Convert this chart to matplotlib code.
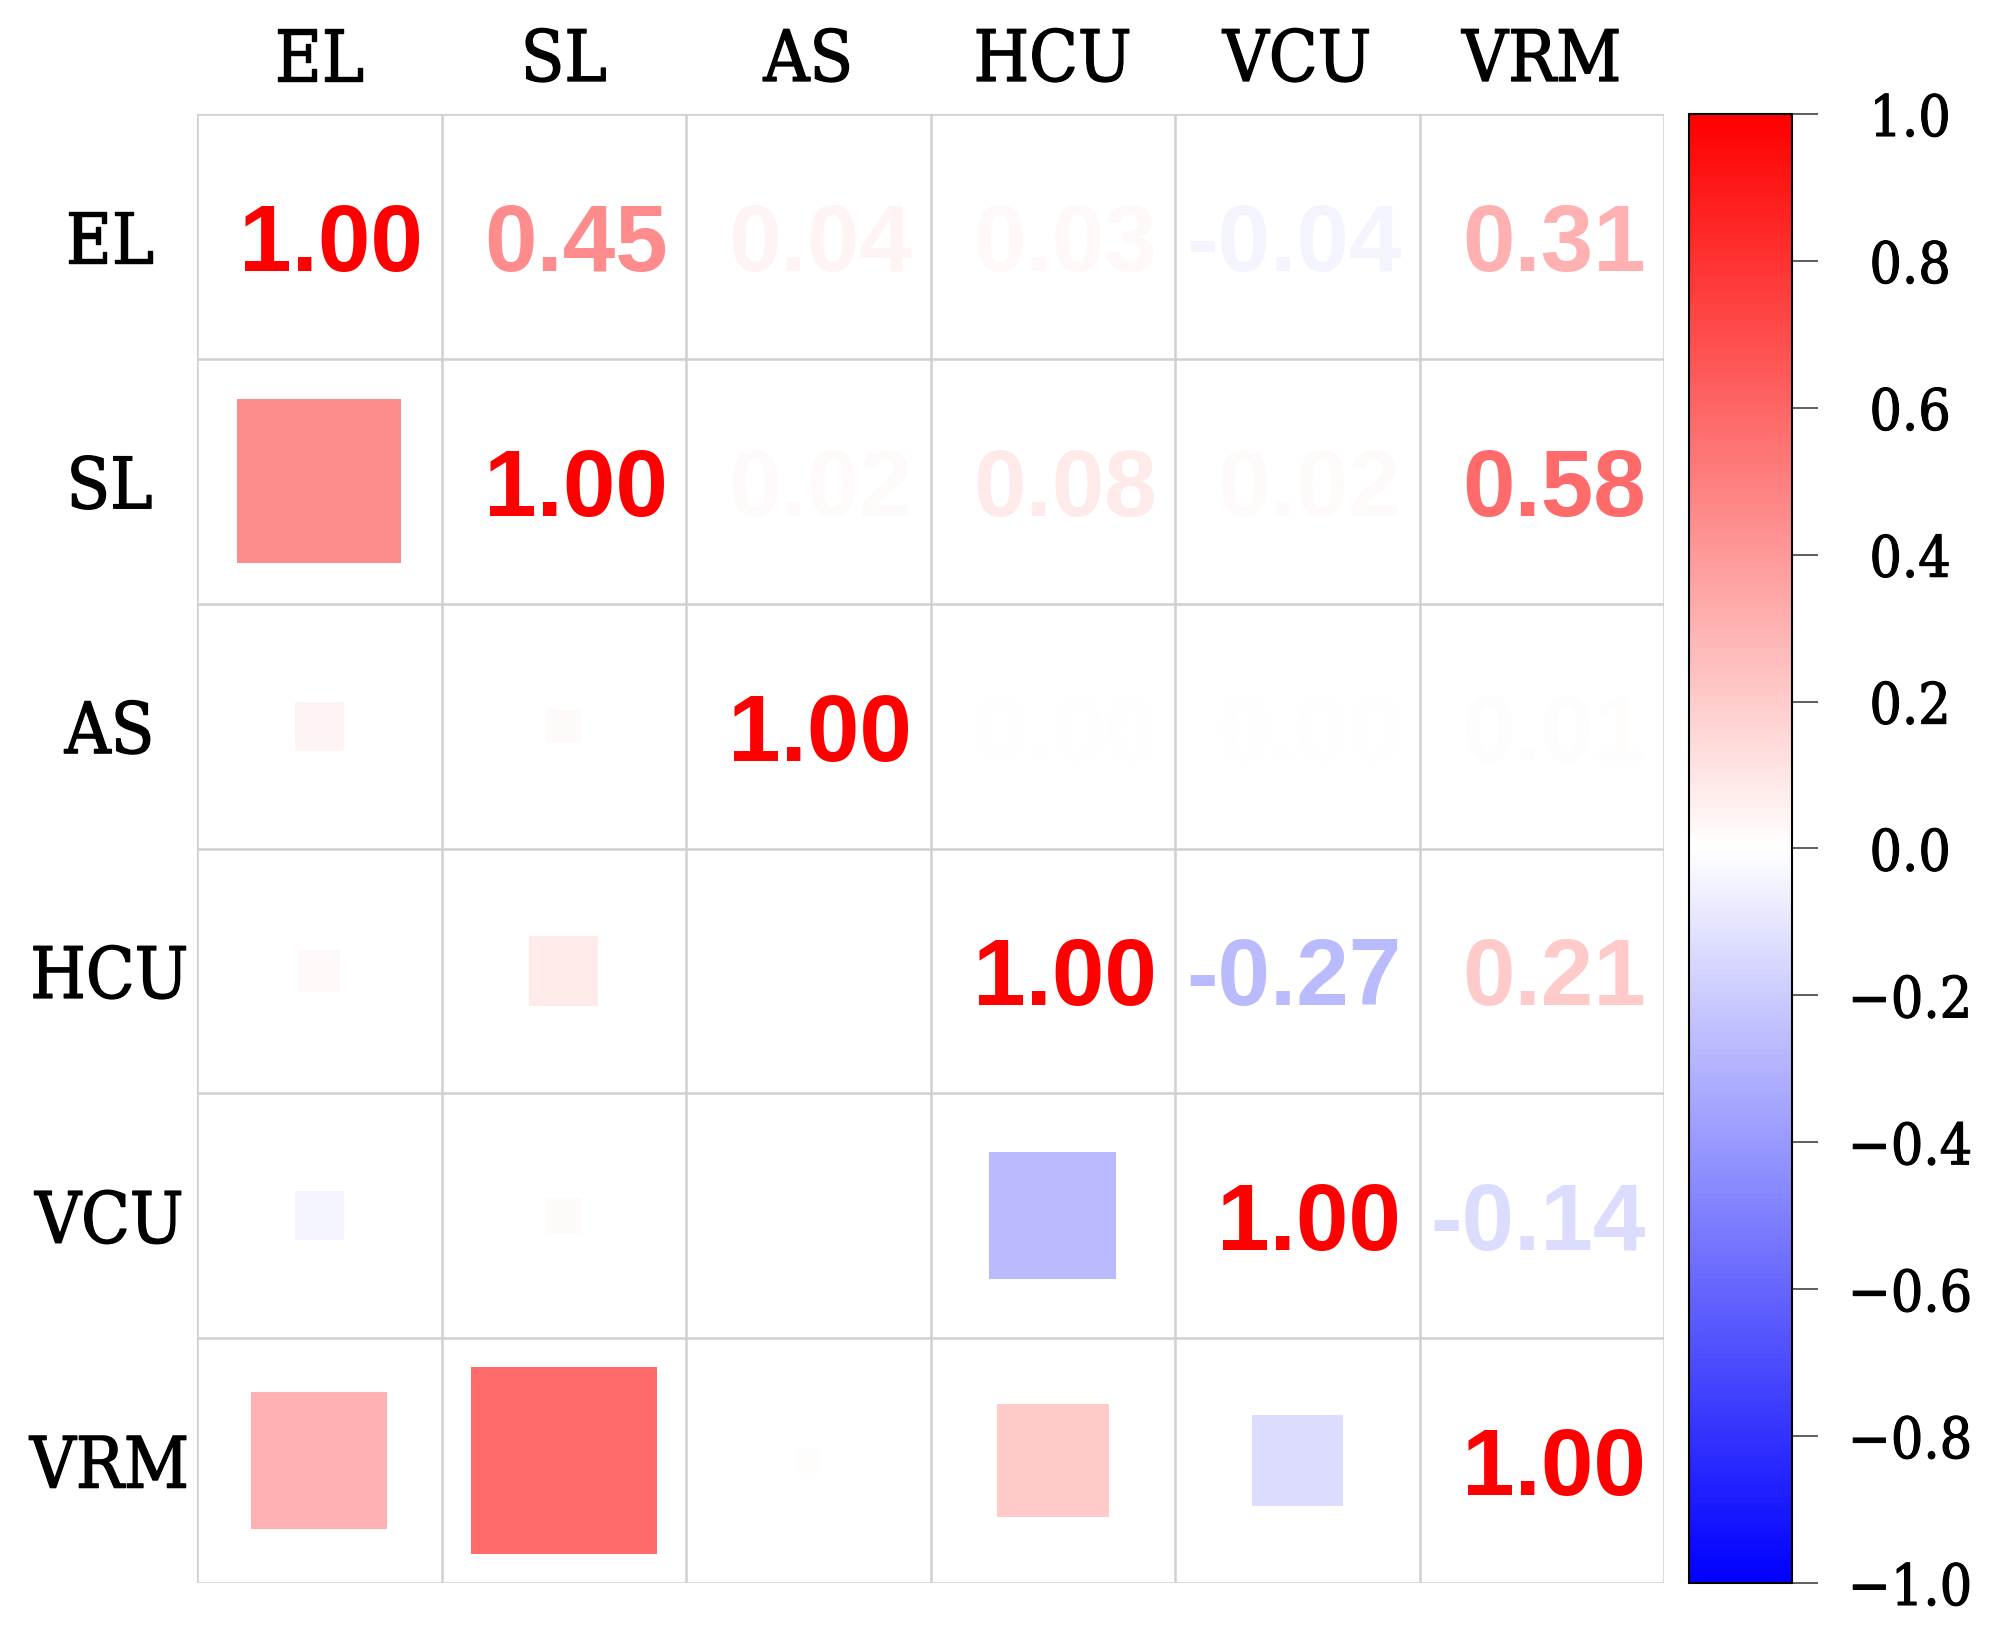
import numpy as np
import matplotlib
matplotlib.use("Agg")
import matplotlib.pyplot as plt
from matplotlib.patches import Rectangle
from matplotlib.colors import Normalize
from matplotlib import patheffects as pe

labels = ["EL", "SL", "AS", "HCU", "VCU", "VRM"]
row_EL = [1.00, 0.45, 0.04, 0.03, -0.04, 0.31]
row_SL = [0.45, 1.00, 0.02, 0.08, 0.02, 0.58]
row_AS = [0.04, 0.02, 1.00, 0.00, 0.00, 0.01]
row_HCU = [0.03, 0.08, 0.00, 1.00, -0.27, 0.21]
row_VCU = [-0.04, 0.02, 0.00, -0.27, 1.00, -0.14]
row_VRM = [0.31, 0.58, 0.01, 0.21, -0.14, 1.00]
cbar_ticks = [1.0, 0.8, 0.6, 0.4, 0.2, 0.0, -0.2, -0.4, -0.6, -0.8, -1.0]

corr = np.array([row_EL, row_SL, row_AS, row_HCU, row_VCU, row_VRM])
n = len(labels)
cmap = plt.get_cmap("bwr")
norm = Normalize(vmin=-1, vmax=1)

W, H = 1990, 1646
fig = plt.figure(figsize=(W / 100, H / 100), dpi=100)
fig.patch.set_facecolor("white")

gl, gr, gt, gb = 197, 1664, 114, 1583
ax = fig.add_axes([gl / W, 1 - gb / H, (gr - gl) / W, (gb - gt) / H])
ax.set_xlim(0, n)
ax.set_ylim(n, 0)

grid_col = "#d0d0d0"
for k in range(n + 1):
    ax.axhline(k, color=grid_col, lw=1.8, zorder=1)
    ax.axvline(k, color=grid_col, lw=1.8, zorder=1)
for s in ax.spines.values():
    s.set_visible(False)

num_font = dict(family="Liberation Sans", fontweight="bold", fontsize=68)
for i in range(n):
    for j in range(n):
        v = corr[i, j]
        col = cmap(norm(v))
        if j >= i:
            ax.text(j + 0.925, i + 0.50, f"{v:.2f}", color=col, ha="right",
                    va="center_baseline", zorder=3, **num_font)
        else:
            side = np.sqrt(abs(v))
            if side > 0:
                ax.add_patch(Rectangle((j + 0.5 - side / 2, i + 0.5 - side / 2),
                                       side, side, facecolor=col,
                                       edgecolor="none", zorder=2))

thick = [pe.withStroke(linewidth=1.0, foreground="black")]
lab_font = dict(family="DejaVu Serif", fontstretch="condensed", fontsize=51)
ax.set_xticks(np.arange(n) + 0.5)
ax.set_yticks(np.arange(n) + 0.5)
ax.xaxis.tick_top()
ax.set_xticklabels(labels, **lab_font)
ax.set_yticklabels(labels, ha="center", **lab_font)
for t in ax.get_xticklabels() + ax.get_yticklabels():
    t.set_path_effects(thick)
ax.tick_params(axis="x", length=0, pad=13)
ax.tick_params(axis="y", length=0, pad=63)

cl, cr = 1689, 1792
cax = fig.add_axes([cl / W, 1 - gb / H, (cr - cl) / W, (gb - gt) / H])
sm = matplotlib.cm.ScalarMappable(norm=norm, cmap=cmap)
cb = fig.colorbar(sm, cax=cax, ticks=cbar_ticks)
cb.outline.set_edgecolor("black")
cb.outline.set_linewidth(1.5)
cb.ax.tick_params(length=19, width=1.2, color="#444444", pad=66)
cb.ax.set_yticklabels([f"{t:.1f}".replace("-", "\u2212") for t in cbar_ticks],
                      ha="center", family="DejaVu Serif", fontstretch="condensed",
                      fontsize=41)
for t in cb.ax.get_yticklabels():
    t.set_path_effects([pe.withStroke(linewidth=0.8, foreground="black")])

fig.savefig("out.png", dpi=100, facecolor="white")
